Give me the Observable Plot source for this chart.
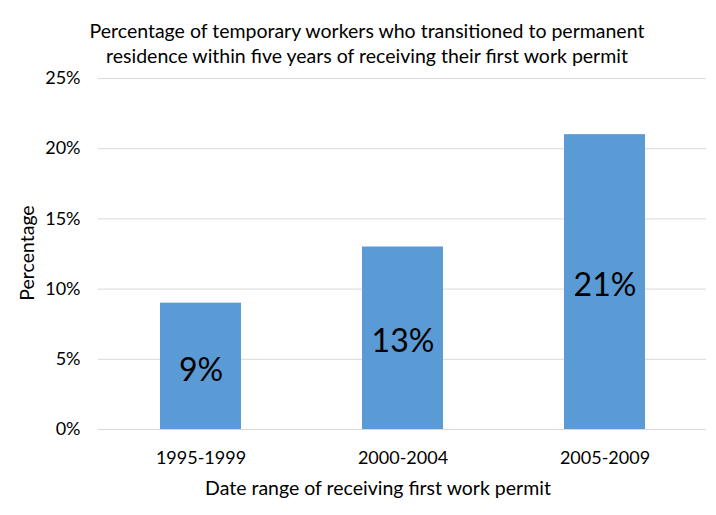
<!DOCTYPE html>
<html>
<head>
<meta charset="utf-8">
<script src="https://cdn.jsdelivr.net/npm/d3@7"></script>
<script src="https://cdn.jsdelivr.net/npm/@observablehq/plot@0.6"></script>
<style>
  body { margin: 0; background: #fff; }
  #wrap { position: relative; width: 716px; height: 515px; font-family: Lato, "Open Sans", sans-serif; color: #000; }
  #title { position: absolute; left: 0; width: 734px; top: 18px; text-align: center; font-size: 19.5px; line-height: 25px; }
  #xlabel { position: absolute; left: 0; width: 756px; top: 476px; text-align: center; font-size: 19.5px; line-height: 24px; }
  #ylabel { position: absolute; left: 27px; top: 253px; font-size: 19.5px; line-height: 24px; white-space: nowrap; transform: translate(-50%, -50%) rotate(-90deg); }
  #chart { position: absolute; left: 0; top: 0; }
</style>
</head>
<body>
<div id="wrap">
  <div id="chart"></div>
  <div id="title">Percentage of temporary workers who transitioned to permanent<br>residence within five years of receiving their first work permit</div>
  <div id="xlabel">Date range of receiving first work permit</div>
  <div id="ylabel">Percentage</div>
</div>
<script>
const categories = ["1995-1999", "2000-2004", "2005-2009"];
const values = [9, 13, 21];
const yTicks = [0, 5, 10, 15, 20, 25];

const data = categories.map((c, i) => ({category: c, value: values[i]}));

const plot = Plot.plot({
  width: 716,
  height: 515,
  marginTop: 78,
  marginBottom: 86,
  marginLeft: 98,
  marginRight: 10,
  style: {fontFamily: "Lato, 'Open Sans', sans-serif", fontSize: "18px", color: "#000", background: "#fff"},
  x: {domain: categories, paddingInner: 0.6, paddingOuter: 0.3},
  y: {domain: [0, 25]},
  marks: [
    Plot.gridY(yTicks, {stroke: "#D9D9D9", strokeOpacity: 1, strokeWidth: 1}),
    Plot.barY(data, {x: "category", y: "value", fill: "#5B9BD5"}),
    Plot.ruleY([0], {stroke: "#D9D9D9", strokeWidth: 1}),
    Plot.axisX({tickSize: 0, tickPadding: 22, label: null, fontSize: 18}),
    Plot.axisY(yTicks, {tickSize: 0, tickPadding: 18, tickFormat: d => d + "%", label: null, fontSize: 18}),
    Plot.text(data, {x: "category", y: d => d.value / 2, text: d => d.value + "%", fontSize: 32, dy: 4, fill: "#000"})
  ]
});
document.getElementById("chart").appendChild(plot);
</script>
</body>
</html>
